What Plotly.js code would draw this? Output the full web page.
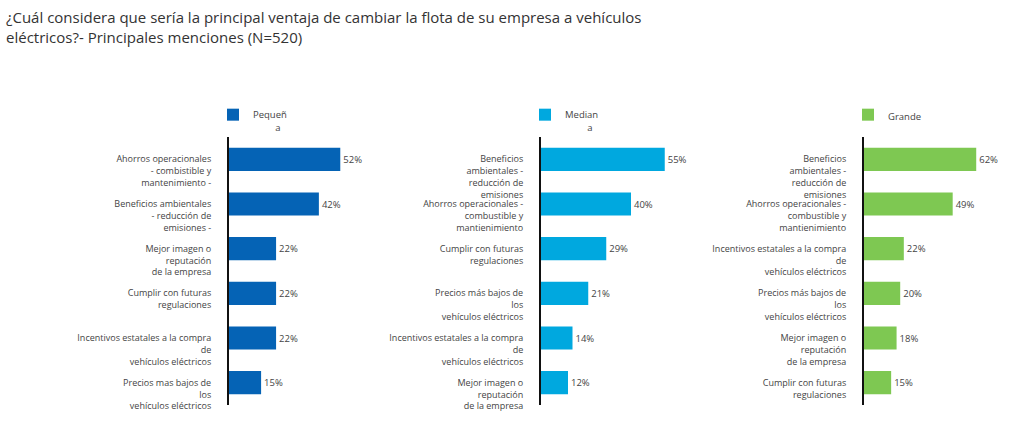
<!DOCTYPE html>
<html>
<head>
<meta charset="utf-8">
<script src="https://cdn.plot.ly/plotly-3.0.1.min.js"></script>
<style>
html,body{margin:0;padding:0;background:#fff;}
#chart{width:1024px;height:429px;}
</style>
</head>
<body>
<div id="chart"></div>
<script>
// ---- Data ----
const titleText = "¿Cuál considera que sería la principal ventaja de cambiar la flota de su empresa a vehículos<br>eléctricos?- Principales menciones (N=520)";

// legend names as they wrap in the reference
const legendLines = [["Pequeñ", "a"], ["Median", "a"], ["Grande"]];

const catsPequena = [
  "Ahorros operacionales<br>- combistible y<br>mantenimiento -",
  "Beneficios ambientales<br>- reducción de<br>emisiones -",
  "Mejor imagen o<br>reputación<br>de la empresa",
  "Cumplir con futuras<br>regulaciones",
  "Incentivos estatales a la compra<br>de<br>vehículos eléctricos",
  "Precios mas bajos de<br>los<br>vehículos eléctricos"
];
const valsPequena = [52, 42, 22, 22, 22, 15];

const catsMediana = [
  "Beneficios<br>ambientales -<br>reducción de<br>emisiones",
  "Ahorros operacionales -<br>combustible y<br>mantienimiento",
  "Cumplir con futuras<br>regulaciones",
  "Precios más bajos de<br>los<br>vehículos eléctricos",
  "Incentivos estatales a la compra<br>de<br>vehículos eléctricos",
  "Mejor imagen o<br>reputación<br>de la empresa"
];
const valsMediana = [55, 40, 29, 21, 14, 12];

const catsGrande = [
  "Beneficios<br>ambientales -<br>reducción de<br>emisiones",
  "Ahorros operacionales -<br>combustible y<br>mantienimiento",
  "Incentivos estatales a la compra<br>de<br>vehículos eléctricos",
  "Precios más bajos de<br>los<br>vehículos eléctricos",
  "Mejor imagen o<br>reputación<br>de la empresa",
  "Cumplir con futuras<br>regulaciones"
];
const valsGrande = [62, 49, 22, 20, 18, 15];

const colors = ["#0563b5", "#00a8df", "#7ec852"];

// ---- Build ----
// top-align multi-line tick labels: pad with blank lines above so the first line sits on the tick
function padLabel(s) {
  const n = s.split("<br>").length;
  return "\u00a0<br>".repeat(n - 1) + s;
}
// second legend line is pushed to the right, as in the reference
function legendName(lines) {
  return lines.map((l, k) => (k ? "\u00a0".repeat(9) : "") + l).join("<br>");
}

const FONT = "Open Sans, Noto Sans, sans-serif";
const txtColor = "#444";

const panels = [
  {cats: catsPequena, vals: valsPequena},
  {cats: catsMediana, vals: valsMediana},
  {cats: catsGrande, vals: valsGrande}
];

const traces = panels.map((p, i) => ({
  type: "bar",
  orientation: "h",
  x: p.vals,
  y: p.cats.map(padLabel),
  name: legendName(legendLines[i]),
  showlegend: true,
  marker: {color: colors[i]},
  text: p.vals.map(v => v + "%"),
  textposition: "outside",
  cliponaxis: false,
  textfont: {family: FONT, size: 9.5, color: txtColor},
  xaxis: i === 0 ? "x" : "x" + (i + 1),
  yaxis: i === 0 ? "y" : "y" + (i + 1),
  legend: i === 0 ? "legend" : "legend" + (i + 1),
  hoverinfo: "x+y"
}));

const W = 1024, H = 429, MT = 137, MB = 24;
const PH = H - MT - MB;
// axis start (px) and px per percent for each panel
const x0 = [229, 541, 864];
const pxPer = [2.14, 2.25, 1.81];
const XMAX = 70;

const layout = {
  width: W,
  height: H,
  showlegend: true,
  paper_bgcolor: "#fff",
  plot_bgcolor: "#fff",
  margin: {l: 0, r: 0, t: MT, b: MB},
  font: {family: FONT, color: txtColor},
  bargap: 0.48,
  title: {
    text: titleText,
    x: 6 / W, xanchor: "left", xref: "container",
    y: 1 - 23 / H, yanchor: "top", yref: "container",
    font: {family: FONT, size: 15, color: "#333"}
  }
};

for (let i = 0; i < 3; i++) {
  const sx = i === 0 ? "" : String(i + 1);
  layout["xaxis" + sx] = {
    domain: [x0[i] / W, (x0[i] + pxPer[i] * XMAX) / W],
    range: [0, XMAX],
    visible: false,
    fixedrange: true,
    anchor: "y" + sx
  };
  layout["yaxis" + sx] = {
    type: "category",
    autorange: "reversed",
    showline: true,
    linecolor: "#111",
    linewidth: 2,
    showgrid: false,
    zeroline: false,
    ticks: "",
    ticklabelstandoff: 14,
    tickfont: {family: FONT, size: 9, color: txtColor},
    anchor: "x" + sx,
    fixedrange: true
  };
  layout["legend" + sx] = {
    visible: true,
    xref: "paper", yref: "paper",
    x: (x0[i] - 16) / W, xanchor: "left",
    y: 1 + (MT - 102) / PH, yanchor: "top",
    valign: "top",
    bgcolor: "rgba(0,0,0,0)",
    font: {family: FONT, size: 9.5, color: txtColor},
    itemclick: false, itemdoubleclick: false
  };
}

Plotly.newPlot("chart", traces, layout, {displayModeBar: false, staticPlot: true});
</script>
</body>
</html>
